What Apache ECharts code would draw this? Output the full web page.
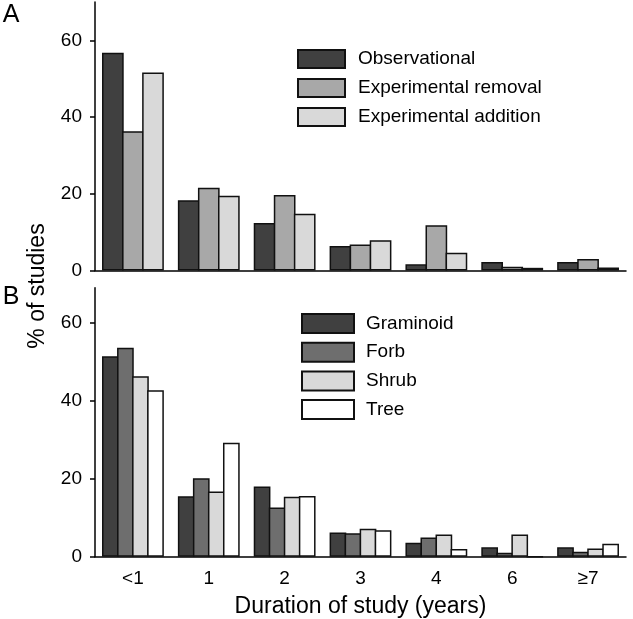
<!DOCTYPE html>
<html><head><meta charset="utf-8">
<script src="https://cdn.jsdelivr.net/npm/echarts@6/dist/echarts.min.js"></script>
<style>html,body{margin:0;padding:0;background:#fff}#c{width:633px;height:619px}</style>
</head><body><div id="c"></div>
<script>
const categories = ['<1', '1', '2', '3', '4', '6', '≥7'];
const observational = [56.8, 18.3, 12.4, 6.4, 1.6, 2.2, 2.2];
const expRemoval = [36.3, 21.6, 19.7, 6.8, 11.8, 1.0, 3.0];
const expAddition = [51.6, 19.5, 14.8, 7.9, 4.6, 0.7, 0.8];
const graminoid = [51.4, 15.5, 18.0, 6.2, 3.6, 2.4, 2.4];
const forb = [53.6, 20.1, 12.6, 6.0, 4.9, 1.0, 1.3];
const shrub = [46.3, 16.7, 15.4, 7.2, 5.7, 5.7, 2.1];
const tree = [42.7, 29.2, 15.6, 6.8, 2.0, 0, 3.3];
const yTicks = [0, 20, 40, 60];

const FONT = "'Liberation Sans', Arial, sans-serif";
const chart = echarts.init(document.getElementById('c'), null, {renderer: 'canvas'});
const border = {borderColor: '#111', borderWidth: 1.5};
function bar(name, data, color, axis, gap) {
  return {
    type: 'bar', name: name, data: data, xAxisIndex: axis, yAxisIndex: axis,
    barGap: gap, barCategoryGap: '18.5%',
    itemStyle: Object.assign({color: color}, border),
    emphasis: {disabled: true}
  };
}
function yAxis(idx, max) {
  return {
    type: 'value', gridIndex: idx, min: 0, max: max, interval: 20,
    axisLine: {show: true, lineStyle: {color: '#000', width: 1.5}},
    axisTick: {show: true, length: 5, customValues: yTicks, lineStyle: {color: '#000', width: 1.5}},
    axisLabel: {customValues: yTicks, fontSize: 19, color: '#000', margin: 13, fontFamily: FONT},
    splitLine: {show: false}
  };
}
const option = {
  animation: false,
  textStyle: {fontFamily: FONT},
  grid: [
    {left: 95, right: 7, top: 2, height: 268.5},
    {left: 95, right: 7, top: 287.7, height: 269}
  ],
  xAxis: [
    {type: 'category', gridIndex: 0, data: categories,
     axisLine: {lineStyle: {color: '#000', width: 1.5}}, axisTick: {show: false}, axisLabel: {show: false}},
    {type: 'category', gridIndex: 1, data: categories,
     axisLine: {lineStyle: {color: '#000', width: 1.5}}, axisTick: {show: false},
     axisLabel: {fontSize: 19, color: '#000', margin: 13, fontFamily: FONT},
     name: 'Duration of study (years)', nameLocation: 'middle', nameGap: 38,
     nameTextStyle: {fontSize: 23, color: '#000', fontFamily: FONT}}
  ],
  yAxis: [yAxis(0, 70), yAxis(1, 69)],
  legend: [
    {data: ['Observational', 'Experimental removal', 'Experimental addition'],
     orient: 'vertical', left: 292, top: 44, itemWidth: 47, itemHeight: 18, itemGap: 9,
     icon: 'rect', selectedMode: false,
     textStyle: {fontSize: 19, lineHeight: 18, color: '#000', padding: [0, 0, 0, 8], fontFamily: FONT}},
    {data: ['Graminoid', 'Forb', 'Shrub', 'Tree'],
     orient: 'vertical', left: 296, top: 308, itemWidth: 52, itemHeight: 19, itemGap: 7.7,
     icon: 'rect', selectedMode: false,
     textStyle: {fontSize: 19, lineHeight: 19, color: '#000', padding: [0, 0, 0, 7], fontFamily: FONT}}
  ],
  series: [
    bar('Observational', observational, '#404040', 0, '-7.5%'),
    bar('Experimental removal', expRemoval, '#a8a8a8', 0, '-7.5%'),
    bar('Experimental addition', expAddition, '#d9d9d9', 0, '-7.5%'),
    bar('Graminoid', graminoid, '#404040', 1, '-10%'),
    bar('Forb', forb, '#6e6e6e', 1, '-10%'),
    bar('Shrub', shrub, '#d9d9d9', 1, '-10%'),
    bar('Tree', tree, '#ffffff', 1, '-10%')
  ],
  graphic: [
    {type: 'text', x: 38, y: 286, rotation: Math.PI / 2,
     style: {text: '% of studies', fontSize: 23, fontFamily: FONT, fill: '#000', align: 'center', verticalAlign: 'middle'}},
    {type: 'text', x: 11, y: 15,
     style: {text: 'A', fontSize: 25, fontFamily: FONT, fill: '#000', align: 'center', verticalAlign: 'middle'}},
    {type: 'text', x: 11, y: 297,
     style: {text: 'B', fontSize: 25, fontFamily: FONT, fill: '#000', align: 'center', verticalAlign: 'middle'}}
  ]
};
chart.setOption(option);
</script>
</body></html>
